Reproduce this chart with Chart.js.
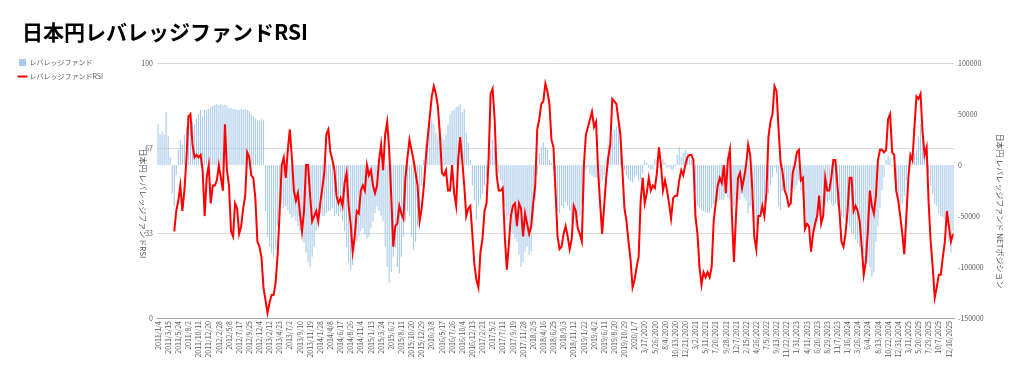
<!DOCTYPE html>
<html lang="ja">
<head>
<meta charset="utf-8">
<script src="https://cdn.jsdelivr.net/npm/chart.js@4.4.1/dist/chart.umd.min.js"></script>
<style>
    html, body { margin: 0; padding: 0; background: #fff; }
    #wrap { width: 1024px; height: 380px; position: relative; }
</style>
</head>
<body>
<div id="wrap"><canvas id="rsiChart"></canvas></div>
<script>
const chartTitle = '日本円レバレッジファンドRSI';
const leftAxisTitle = '日本円 レバレッジファンドRSI';
const rightAxisTitle = '日本円 レバレッジファンド NETポジション';
const seriesNames = ['レバレッジファンド', 'レバレッジファンドRSI'];

// one label every 10 weeks (every 5th bi-weekly point)
const tickLabels = [
    '2011/1/4', '2011/3/15', '2011/5/24', '2011/8/2', '2011/10/11', '2011/12/20',
    '2012/2/28', '2012/5/8', '2012/7/17', '2012/9/25', '2012/12/4',
    '2013/2/12', '2013/4/23', '2013/7/2', '2013/9/10', '2013/11/19',
    '2014/1/28', '2014/4/8', '2014/6/17', '2014/8/26', '2014/11/4',
    '2015/1/13', '2015/3/24', '2015/6/2', '2015/8/11', '2015/10/20', '2015/12/29',
    '2016/3/8', '2016/5/17', '2016/7/26', '2016/10/4', '2016/12/13',
    '2017/2/21', '2017/5/2', '2017/7/11', '2017/9/19', '2017/11/28',
    '2018/2/5', '2018/4/16', '2018/6/25', '2018/9/3', '2018/11/12',
    '2019/1/22', '2019/4/2', '2019/6/11', '2019/8/20', '2019/10/29',
    '2020/1/7', '3/17/2020', '5/26/2020', '8/4/2020', '10/13/2020', '12/21/2020',
    '3/2/2021', '5/11/2021', '7/20/2021', '9/28/2021', '12/7/2021',
    '2/15/2022', '4/26/2022', '7/5/2022', '9/13/2022', '11/22/2022',
    '1/31/2023', '4/11/2023', '6/20/2023', '8/29/2023', '11/7/2023',
    '1/16/2024', '3/26/2024', '6/4/2024', '8/13/2024', '10/22/2024', '12/31/2024',
    '3/11/2025', '5/20/2025', '7/29/2025', '10/7/2025', '12/16/2025'
];

// leveraged fund net position (right axis), bi-weekly
const netPosition = [
    40000, 30000, 33000, 30000, 52000, 28000, 8000, -28000, -40000, -10000,
    15000, 25000, 20000, 30000, 38000, 40000, 38000, 42000, 40000, 45000,
    50000, 54000, 48000, 54000, 54000, 55000, 57000, 58000, 59000, 60000,
    59000, 60000, 58000, 59000, 58000, 56000, 56000, 55000, 55000, 54000,
    54000, 55000, 54000, 55000, 54000, 53000, 50000, 48000, 46000, 44000,
    44000, 45000, 44000, -45000, -70000, -80000, -86000, -90000, -82000, -60000,
    -40000, -38000, -42000, -40000, -44000, -48000, -52000, -50000, -55000, -60000,
    -65000, -70000, -76000, -86000, -95000, -100000, -90000, -80000, -65000, -55000,
    -48000, -50000, -50000, -47000, -45000, -44000, -42000, -50000, -48000, -50000,
    -46000, -55000, -65000, -80000, -95000, -103000, -98000, -85000, -75000, -70000,
    -65000, -62000, -68000, -72000, -70000, -62000, -55000, -47000, -40000, -45000,
    -50000, -55000, -80000, -100000, -116000, -105000, -90000, -80000, -100000, -106000,
    -90000, -70000, -55000, -45000, -50000, -70000, -83000, -75000, -60000, -45000,
    -20000, 5000, 20000, 30000, 40000, 44000, 40000, 32000, 28000, 25000,
    28000, 25000, 30000, 40000, 50000, 53000, 54000, 57000, 58000, 60000,
    52000, 55000, 32000, 22000, 5000, -20000, -35000, -54000, -40000, -34000,
    -28000, -20000, -12000, -5000, 15000, 25000, 18000, -5000, -8000, -15000,
    -22000, -40000, -54000, -50000, -55000, -67000, -72000, -75000, -88000, -100000,
    -95000, -85000, -80000, -88000, -85000, -60000, -35000, -10000, 12000, 18000,
    22000, 18000, 15000, 5000, 2000, -5000, -35000, -45000, -47000, -40000,
    -42000, -36000, -40000, -45000, -55000, -58000, -60000, -52000, -50000, -38000,
    -25000, -5000, -2000, -8000, -10000, -12000, -12000, -16000, -18000, -15000,
    -10000, 5000, 20000, 25000, 30000, 35000, 38000, 40000, 35000, 5000,
    -5000, -10000, -14000, -16000, -17000, -12000, -10000, -16000, -14000, -8000,
    5000, 2000, -3000, -5000, -4000, 6000, 5000, -3000, -2000, 6000,
    3000, -3000, -2000, -4000, -5000, -2000, 10000, 18000, 8000, 12000,
    15000, 12000, 8000, 5000, -5000, -25000, -40000, -42000, -44000, -45000,
    -46000, -47000, -47000, -42000, -38000, -40000, -36000, -34000, -34000, -34000,
    -28000, -32000, -34000, -38000, -40000, -37000, -35000, -34000, -28000, -32000,
    -35000, -47000, -40000, -42000, -55000, -60000, -52000, -47000, -42000, -38000,
    -34000, -28000, -20000, -12000, -2000, -8000, -40000, -44000, -25000, -24000,
    -28000, -30000, -25000, -22000, -24000, -20000, -15000, -25000, -32000, -45000,
    -55000, -60000, -65000, -67000, -62000, -58000, -50000, -48000, -47000, -40000,
    -37000, -34000, -38000, -40000, -38000, -40000, -42000, -50000, -52000, -54000,
    -57000, -60000, -67000, -68000, -73000, -77000, -80000, -85000, -87000, -90000,
    -95000, -100000, -110000, -105000, -75000, -60000, -42000, -25000, -12000, 5000,
    10000, 7000, -2000, -15000, -25000, -35000, -40000, -38000, -30000, -15000,
    -3000, 5000, 8000, 12000, 15000, 28000, 40000, 25000, 18000, -2000,
    -8000, -20000, -28000, -38000, -40000, -47000, -50000, -51000, -53000, -60000,
    -75000, -86000, -65000
];

// RSI of the net position (left axis), bi-weekly
const rsiValues = [
    null, null, null, null, null, null, null, null, 34, 42,
    46, 52, 42, 50, 62, 79, 80, 68, 63, 64,
    63, 64, 58, 40, 55, 60, 45, 52, 52, 54,
    60, 55, 50, 76, 58, 52, 34, 32, 45, 43,
    33, 36, 43, 48, 65, 63, 56, 55, 47, 30,
    28, 24, 12, 7, 2, 6, 9, 9, 14, 25,
    42, 60, 63, 55, 66, 74, 63, 50, 46, 49,
    41, 34, 42, 60, 60, 48, 38, 40, 42, 38,
    45, 51, 57, 72, 74, 65, 62, 58, 48, 45,
    47, 44, 53, 57, 44, 37, 26, 32, 42, 41,
    50, 52, 50, 60, 56, 58, 52, 49, 52, 62,
    68, 58, 72, 77, 66, 48, 28, 36, 37, 44,
    41, 39, 55, 63, 70, 66, 62, 57, 52, 38,
    43, 51, 62, 71, 79, 87, 91, 88, 83, 72,
    57, 56, 58, 50, 50, 60, 49, 44, 62, 71,
    62, 52, 40, 43, 44, 33, 21, 15, 12, 26,
    31, 42, 45, 62, 88, 90, 78, 56, 50, 50,
    51, 32, 19, 29, 40, 44, 45, 36, 45, 43,
    32, 41, 37, 33, 36, 45, 52, 74, 78, 84,
    85, 92, 89, 84, 70, 67, 50, 32, 27, 28,
    33, 36, 32, 27, 31, 44, 42, 35, 33, 30,
    60, 72, 75, 78, 81, 75, 77, 58, 45, 33,
    44, 55, 63, 68, 86, 85, 84, 78, 72, 58,
    43, 38, 30, 23, 12, 15, 20, 24, 46, 55,
    45, 49, 55, 50, 52, 51, 57, 67, 60, 50,
    54, 50, 45, 39, 47, 48, 48, 54, 58, 56,
    60, 63, 64, 64, 62, 40, 33, 20, 13, 18,
    16, 18, 16, 20, 38, 45, 52, 55, 53, 60,
    49, 62, 66, 40, 22, 40, 55, 57, 51, 55,
    60, 68, 64, 51, 32, 27, 40, 40, 44, 40,
    49, 71, 77, 80, 91, 89, 74, 61, 57, 50,
    48, 44, 45, 57, 60, 65, 66, 54, 55, 35,
    37, 36, 26, 33, 37, 40, 48, 37, 40, 55,
    50, 50, 55, 62, 62, 52, 42, 30, 28, 33,
    42, 55, 55, 42, 44, 42, 38, 28, 17, 22,
    34, 50, 44, 41, 48, 62, 66, 66, 65, 66,
    78, 80, 65, 64, 50, 46, 40, 33, 25, 40,
    55, 64, 62, 75, 87, 86, 88, 73, 64, 67,
    45, 30, 20, 8, 12, 17, 17, 24, 30, 42,
    36, 30, 33
];

const rsiTicks = [0, 100 / 3, 200 / 3, 100];

const FONT = "'Noto Sans CJK JP', 'Noto Sans', sans-serif";
const PLOT_LEFT = 157;
const PLOT_RIGHT = 954;
const PLOT_BOTTOM = 318;

const labels = netPosition.map((_, i) => (i % 5 === 0 ? (tickLabels[i / 5] || '') : ''));

// nudges legend / title after layout and draws the two vertical axis titles
const layoutTweaks = {
    id: 'layoutTweaks',
    afterLayout(chart) {
        const lg = chart.legend;
        if (lg) {
            const dy = 52 - lg.top;
            lg.top += dy;
            lg.bottom += dy;
            lg.left += 12;
            lg.right += 12;
        }
        const tb = chart.titleBlock;
        if (tb) {
            tb.left += 22;
            tb.right += 22;
        }
    },
    afterDraw(chart) {
        const { ctx, chartArea } = chart;
        const h = chartArea.bottom - chartArea.top;
        ctx.save();
        ctx.font = `8px ${FONT}`;
        ctx.fillStyle = '#595959';
        ctx.textAlign = 'center';
        ctx.textBaseline = 'middle';
        const draw = (text, x, y) => {
            ctx.save();
            ctx.translate(x, y);
            ctx.rotate(Math.PI / 2);
            ctx.fillText(text, 0, 0);
            ctx.restore();
        };
        draw(leftAxisTitle, chartArea.left - 14, chartArea.top + h * 0.55);
        draw(rightAxisTitle, chartArea.right + 46, chartArea.top + h * 0.58);
        ctx.restore();
    }
};

new Chart(document.getElementById('rsiChart').getContext('2d'), {
    data: {
        labels,
        datasets: [
            {
                type: 'bar',
                label: seriesNames[0],
                data: netPosition,
                yAxisID: 'y1',
                backgroundColor: '#a9cbea',
                borderWidth: 0,
                barPercentage: 0.55,
                categoryPercentage: 1,
                pointStyle: 'rect',
                order: 2
            },
            {
                type: 'line',
                label: seriesNames[1],
                data: rsiValues,
                yAxisID: 'y',
                borderColor: '#ff0000',
                backgroundColor: '#ff0000',
                borderWidth: 2,
                pointRadius: 0,
                tension: 0,
                pointStyle: 'line',
                order: 1
            }
        ]
    },
    options: {
        responsive: true,
        maintainAspectRatio: false,
        animation: false,
        layout: { padding: { left: 0, right: 0, top: 0, bottom: 0 } },
        plugins: {
            title: {
                display: true,
                text: chartTitle,
                align: 'start',
                color: '#000',
                font: { family: FONT, size: 21, weight: 'bold' },
                padding: { top: 19, bottom: 19 }
            },
            legend: {
                position: 'left',
                align: 'start',
                labels: {
                    font: { family: FONT, size: 7 },
                    color: '#595959',
                    usePointStyle: true,
                    boxWidth: 8,
                    boxHeight: 7,
                    padding: 7,
                    sort: (a, b) => a.datasetIndex - b.datasetIndex
                }
            },
            tooltip: { enabled: false }
        },
        scales: {
            x: {
                grid: { display: false, drawTicks: false },
                border: { display: true, color: '#a6a6a6' },
                ticks: {
                    autoSkip: false,
                    minRotation: 90,
                    maxRotation: 90,
                    padding: 3,
                    color: '#595959',
                    font: { family: FONT, size: 7 }
                },
                afterFit: (s) => { s.height = 380 - PLOT_BOTTOM; }
            },
            y: {
                position: 'left',
                min: 0,
                max: 100,
                afterBuildTicks: (s) => { s.ticks = rsiTicks.map(v => ({ value: v })); },
                ticks: {
                    padding: 4,
                    color: '#595959',
                    font: { family: FONT, size: 7 },
                    callback: (v) => Math.round(v)
                },
                grid: { color: '#d9d9d9', drawTicks: false },
                border: { display: false },
                afterFit: (s) => {
                    const lw = s.chart.legend ? s.chart.legend.width : 0;
                    s.width = PLOT_LEFT - lw;
                }
            },
            y1: {
                position: 'right',
                min: -150000,
                max: 100000,
                ticks: {
                    stepSize: 50000,
                    padding: 4,
                    color: '#595959',
                    font: { family: FONT, size: 7 },
                    callback: (v) => String(v)
                },
                grid: { display: false, drawTicks: false },
                border: { display: false },
                afterFit: (s) => { s.width = 1024 - PLOT_RIGHT; }
            }
        }
    },
    plugins: [layoutTweaks]
});
</script>
</body>
</html>
